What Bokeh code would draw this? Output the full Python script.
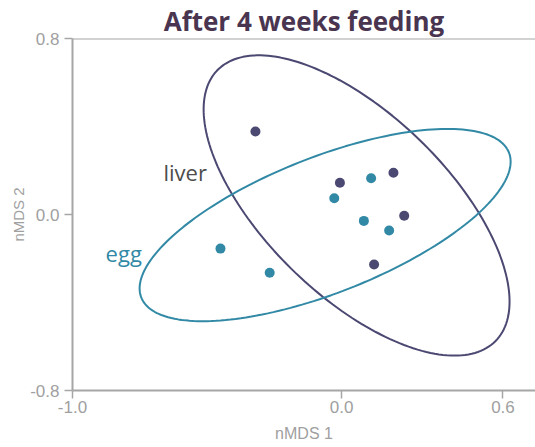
import numpy as np
from bokeh.plotting import figure
from bokeh.models import ColumnDataSource, Range1d, FixedTicker, Span, Title
from bokeh.core.properties import value
from bokeh.embed import file_html
from bokeh.resources import INLINE

# ---- data ----
liver_x = [-0.320, -0.006, 0.193, 0.233, 0.121]
liver_y = [0.377, 0.144, 0.190, -0.006, -0.227]
egg_x = [0.110, -0.027, 0.083, 0.177, -0.450, -0.267]
egg_y = [0.165, 0.074, -0.029, -0.073, -0.155, -0.265]

# ellipse parameters (centre, semi-axes, rotation in degrees) in data units
liver_ell = dict(cx=0.056, cy=0.041, a=0.808, b=0.369, angle=127.0)
egg_ell = dict(cx=-0.061, cy=-0.048, a=0.760, b=0.298, angle=27.2)

x_ticks = [-1.0, 0.0, 0.6]
y_ticks = [-0.8, 0.0, 0.8]
x_tick_labels = ["-1.0", "0.0", "0.6"]
y_tick_labels = ["-0.8", "0.0", "0.8"]

LIVER_COL = "#4b4872"
EGG_COL = "#3189a5"
AXIS_COL = "#a6a6a6"
LABEL_COL = "#a0a0a0"


def ellipse_path(e, n=200):
    t = np.linspace(0, 2 * np.pi, n)
    th = np.deg2rad(e["angle"])
    x = e["cx"] + e["a"] * np.cos(t) * np.cos(th) - e["b"] * np.sin(t) * np.sin(th)
    y = e["cy"] + e["a"] * np.cos(t) * np.sin(th) + e["b"] * np.sin(t) * np.cos(th)
    return x, y


p = figure(width=535, height=447, output_backend="svg", toolbar_location=None,
           x_range=Range1d(-1.0, 0.721), y_range=Range1d(-0.8, 0.8),
           min_border_left=72, min_border_right=0, min_border_top=38,
           min_border_bottom=57)
p.outline_line_color = None
p.grid.grid_line_color = None
p.background_fill_color = "white"
p.border_fill_color = "white"

t = Title(text="After 4 weeks feeding", align="center",
          text_font="Open Sans", text_font_size="26px", text_font_style="bold",
          text_color="#4a3551", standoff=0, text_line_height=1.0)
p.add_layout(t, "above")

# axes styling
for ax in (p.xaxis[0], p.yaxis[0]):
    ax.axis_line_color = AXIS_COL
    ax.axis_line_width = 2
    ax.major_tick_line_color = AXIS_COL
    ax.major_tick_line_width = 1.5
    ax.major_tick_out = 8
    ax.major_tick_in = 0
    ax.minor_tick_line_color = None
    ax.major_label_text_color = LABEL_COL
    ax.major_label_text_font = "Liberation Sans"
    ax.major_label_text_font_size = "17px"
    ax.axis_label_text_color = LABEL_COL
    ax.axis_label_text_font = "Liberation Sans"
    ax.axis_label_text_font_size = "16px"
    ax.axis_label_text_font_style = "normal"

p.xaxis.ticker = FixedTicker(ticks=x_ticks)
p.yaxis.ticker = FixedTicker(ticks=y_ticks)
p.xaxis.major_label_overrides = dict(zip(x_ticks, x_tick_labels))
p.yaxis.major_label_overrides = dict(zip(y_ticks, y_tick_labels))
p.xaxis.axis_label = "nMDS 1"
p.yaxis.axis_label = "nMDS 2"
p.yaxis.axis_label_text_font_size = "15px"
p.xaxis.major_label_standoff = 2
p.xaxis.axis_label_standoff = 9
p.yaxis.major_label_standoff = 5
p.yaxis.axis_label_standoff = 0

# top border line
p.add_layout(Span(location=0.8, dimension="width", line_color=AXIS_COL, line_width=2))

# ellipses
lx, ly = ellipse_path(liver_ell)
ex, ey = ellipse_path(egg_ell)
p.line(lx, ly, line_color=LIVER_COL, line_width=2)
p.line(ex, ey, line_color=EGG_COL, line_width=2)

# points
p.scatter(x="x", y="y", source=ColumnDataSource(dict(x=liver_x, y=liver_y)),
          size=10, fill_color=LIVER_COL, line_color=None)
p.scatter(x="x", y="y", source=ColumnDataSource(dict(x=egg_x, y=egg_y)),
          size=10, fill_color=EGG_COL, line_color=None)

# group labels
p.text(x=[-0.662], y=[0.195], text=["liver"], text_color="#4d4d4d",
       text_font=value("Open Sans"), text_font_size="22px",
       text_baseline="alphabetic", text_align="left")
p.text(x=[-0.877], y=[-0.177], text=["egg"], text_color=EGG_COL,
       text_font=value("Open Sans"), text_font_size="22px",
       text_baseline="alphabetic", text_align="left")

open("out.html", "w").write(file_html(p, INLINE))
